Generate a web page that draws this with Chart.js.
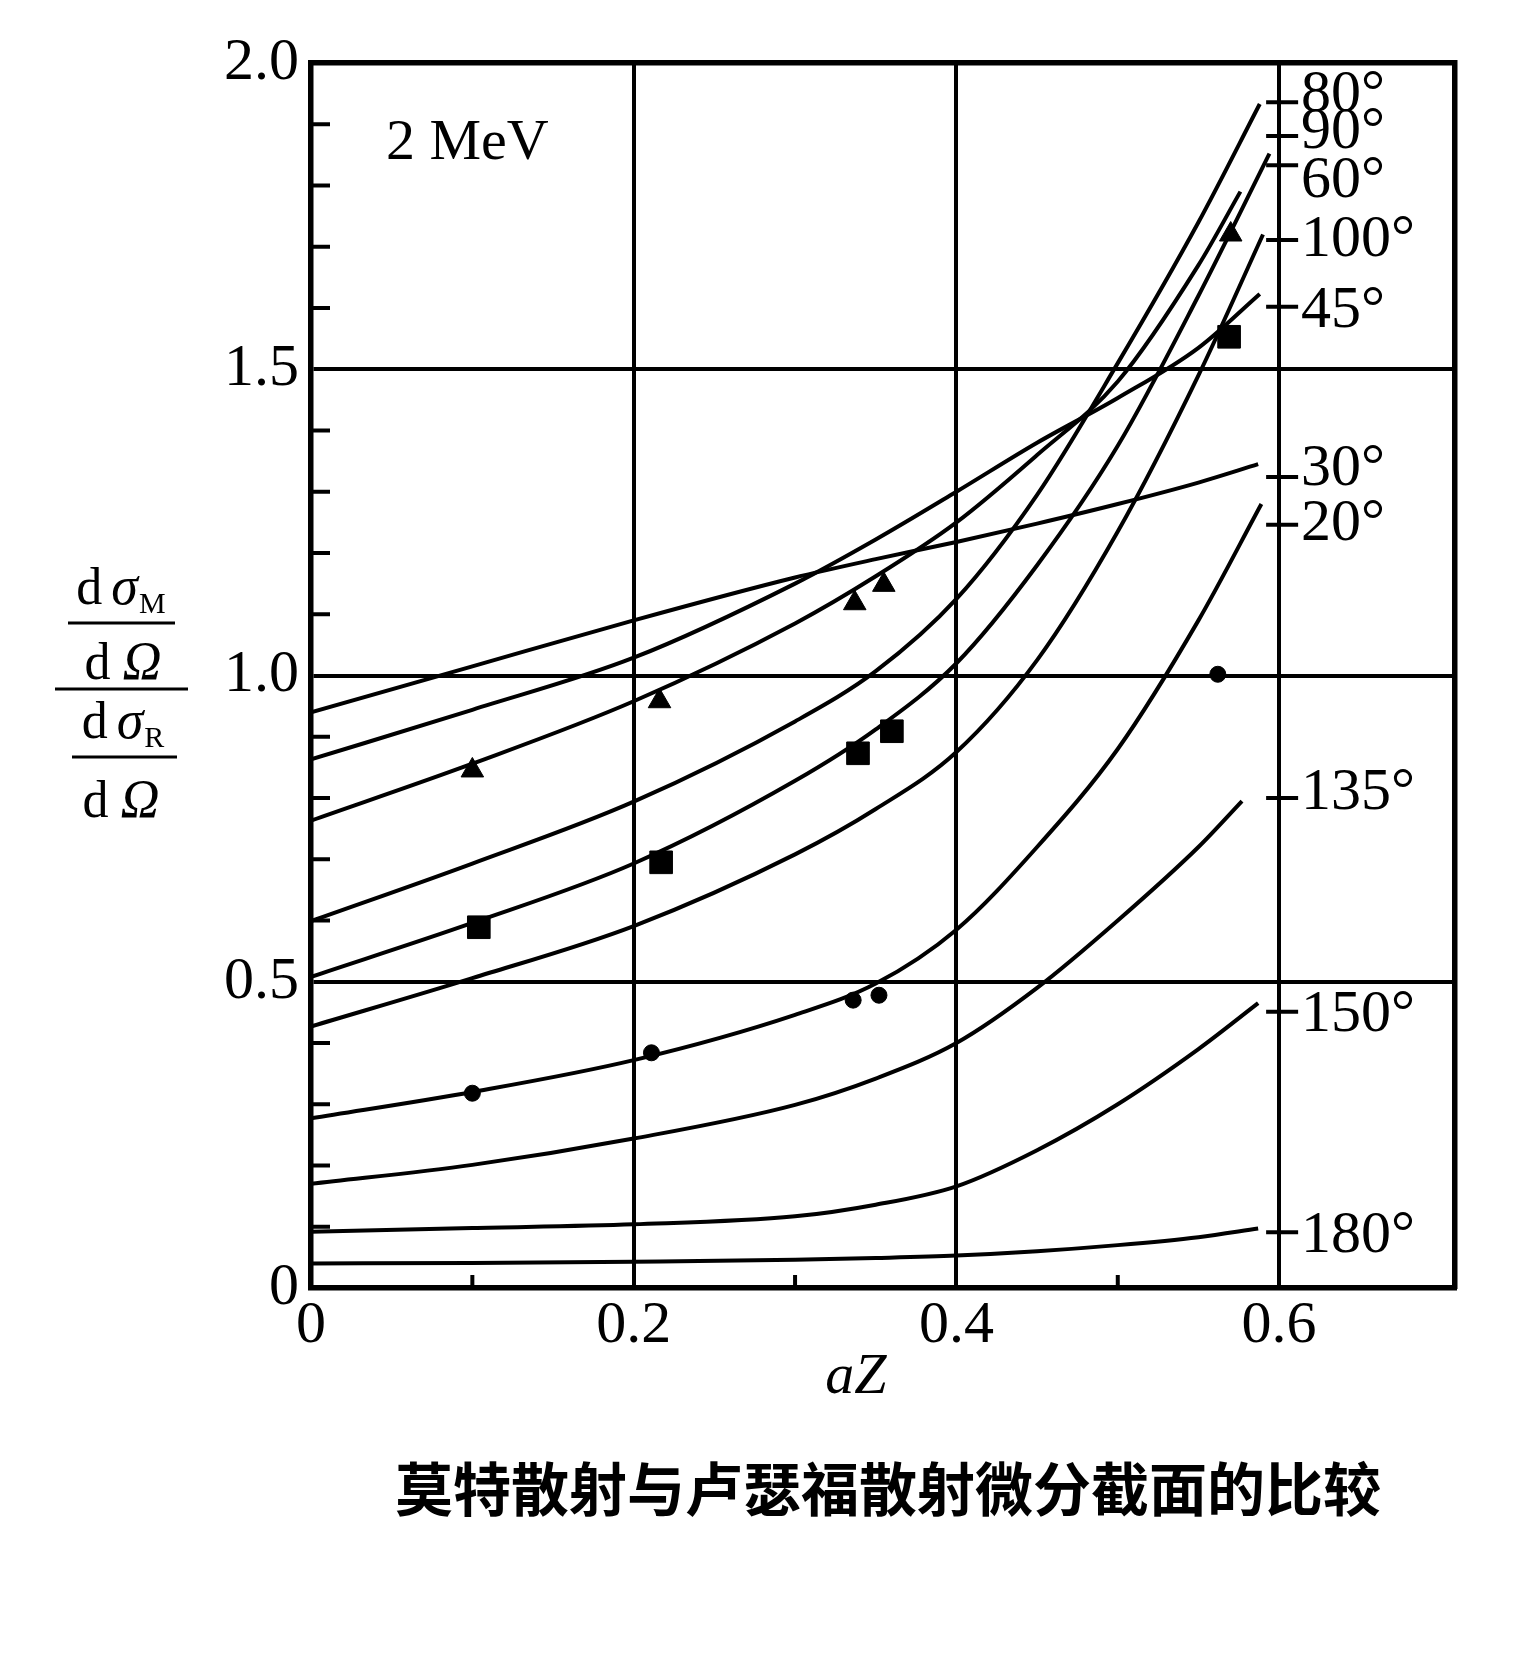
<!DOCTYPE html>
<html>
<head>
<meta charset="utf-8">
<style>
html,body{margin:0;padding:0;background:#fff;}
canvas{display:block;}
</style>
<script src="https://cdn.jsdelivr.net/npm/chart.js@4.4.1/dist/chart.umd.min.js"></script>
</head>
<body>
<canvas id="c" width="1536" height="1653"></canvas>
<script>
// ---------------- data ----------------
const azGrid = [0, 0.1, 0.2, 0.3, 0.35, 0.4, 0.45, 0.5, 0.55];

const ratio30  = [0.940, 1.015, 1.090, 1.160, 1.190, 1.218, 1.248, 1.280, 1.315];
const ratio45  = [0.863, 0.944, 1.029, 1.150, 1.222, 1.300, 1.380, 1.453, 1.535];
const ratio60  = [0.763, 0.856, 0.958, 1.085, 1.162, 1.250, 1.360, 1.480, 1.670];
const ratio80  = [0.599, 0.693, 0.794, 0.925, 1.007, 1.125, 1.295, 1.510, 1.740];
const ratio90  = [0.508, 0.596, 0.693, 0.828, 0.912, 1.020, 1.180, 1.375, 1.620];
const ratio100 = [0.427, 0.506, 0.591, 0.708, 0.782, 0.875, 1.025, 1.235, 1.490];
const ratio120 = [0.277, 0.320, 0.372, 0.446, 0.497, 0.585, 0.720, 0.880, 1.090];
const ratio135 = [0.170, 0.201, 0.244, 0.299, 0.342, 0.400, 0.490, 0.600, 0.720];
const ratio150 = [0.092, 0.098, 0.104, 0.117, 0.136, 0.166, 0.225, 0.300, 0.390];
const ratio180 = [0.040, 0.041, 0.043, 0.046, 0.049, 0.053, 0.060, 0.070, 0.083];

const curveNames = ['30°','45°','60°','80°','90°','100°','120°','135°','150°','180°'];
const curveEndX  = [0.587, 0.588, 0.576, 0.588, 0.594, 0.590, 0.589, 0.577, 0.587, 0.587];
const curveEndY  = [1.345, 1.623, 1.790, 1.933, 1.852, 1.720, 1.280, 0.795, 0.465, 0.097];

// measured points
const triX = [0.100, 0.216, 0.337, 0.355, 0.570];
const triY = [0.845, 0.958, 1.118, 1.148, 1.720];
const sqX  = [0.104, 0.217, 0.339, 0.360, 0.569];
const sqY  = [0.589, 0.695, 0.873, 0.909, 1.553];
const dotX = [0.100, 0.211, 0.336, 0.352, 0.562];
const dotY = [0.318, 0.384, 0.470, 0.478, 1.002];

// right-hand angle labels: tick value and text value
const angleLabels = ['80°','90°','60°','100°','45°','30°','20°','135°','150°','180°'];
const angleTickY  = [1.936, 1.881, 1.833, 1.711, 1.602, 1.324, 1.246, 0.800, 0.451, 0.091];
const angleTextY  = [1.948, 1.887, 1.807, 1.711, 1.595, 1.337, 1.247, 0.807, 0.446, 0.085];

// axis ticks
const xTickValues = [0, 0.2, 0.4, 0.6];
const xTickLabels = ['0', '0.2', '0.4', '0.6'];
const yTickValues = [0, 0.5, 1.0, 1.5, 2.0];
const yTickLabels = ['0', '0.5', '1.0', '1.5', '2.0'];
const xMinorTicks = [0.1, 0.3, 0.5];
const yMinorTicks = [0.1,0.2,0.3,0.4,0.6,0.7,0.8,0.9,1.1,1.2,1.3,1.4,1.6,1.7,1.8,1.9];

const energyLabel = '2 MeV';
const xTitle = 'aZ';
const caption = '莫特散射与卢瑟福散射微分截面的比较';

// ---------------- chart ----------------
const allCurves = [ratio30, ratio45, ratio60, ratio80, ratio90, ratio100, ratio120, ratio135, ratio150, ratio180];
const SERIF = '"Liberation Serif", "DejaVu Serif", serif';

const datasets = allCurves.map((vals, i) => ({
  label: curveNames[i],
  data: azGrid.map((x, j) => ({x: x, y: vals[j]})).concat([{x: curveEndX[i], y: curveEndY[i]}]),
  showLine: true,
  borderColor: '#000',
  borderWidth: 4,
  pointRadius: 0,
  cubicInterpolationMode: 'monotone',
  fill: false
}));
datasets.push({
  label: 'triangles', data: triX.map((x, i) => ({x: x, y: triY[i]})),
  showLine: false, pointStyle: 'triangle', pointRadius: 13,
  backgroundColor: '#000', borderColor: '#000', borderWidth: 1
});
datasets.push({
  label: 'squares', data: sqX.map((x, i) => ({x: x, y: sqY[i]})),
  showLine: false, pointStyle: 'rect', pointRadius: 16,
  backgroundColor: '#000', borderColor: '#000', borderWidth: 1
});
datasets.push({
  label: 'dots', data: dotX.map((x, i) => ({x: x, y: dotY[i]})),
  showLine: false, pointStyle: 'circle', pointRadius: 8,
  backgroundColor: '#000', borderColor: '#000', borderWidth: 1
});

function lookupLabel(values, labels, v) {
  for (let i = 0; i < values.length; i++) if (Math.abs(values[i] - v) < 1e-6) return labels[i];
  return '';
}

function drawGroup(ctx, parts, cx, baseline) {
  let w = 0;
  parts.forEach(p => { ctx.font = p.font; p.w = ctx.measureText(p.t).width; w += p.w + (p.gap || 0); });
  let x = cx - w / 2;
  ctx.textAlign = 'left';
  ctx.textBaseline = 'alphabetic';
  parts.forEach(p => { ctx.font = p.font; ctx.fillText(p.t, x, baseline + (p.dy || 0)); x += p.w + (p.gap || 0); });
}

const deco = {
  id: 'deco',
  afterDraw(chart) {
    const ctx = chart.ctx;
    const xs = chart.scales.x, ys = chart.scales.y;
    const left = chart.chartArea.left, bottom = chart.chartArea.bottom;
    ctx.save();
    ctx.strokeStyle = '#000';
    ctx.fillStyle = '#000';
    ctx.lineCap = 'butt';

    // inner minor ticks
    ctx.lineWidth = 4;
    yMinorTicks.forEach(v => {
      const y = ys.getPixelForValue(v);
      ctx.beginPath(); ctx.moveTo(left, y); ctx.lineTo(left + 19, y); ctx.stroke();
    });
    xMinorTicks.forEach(v => {
      const x = xs.getPixelForValue(v);
      ctx.beginPath(); ctx.moveTo(x, bottom); ctx.lineTo(x, bottom - 13); ctx.stroke();
    });

    // angle ticks and labels at x = 0.6
    const x6 = xs.getPixelForValue(0.6);
    ctx.font = '60px ' + SERIF;
    ctx.textAlign = 'left';
    ctx.textBaseline = 'middle';
    angleLabels.forEach((lab, i) => {
      const y = ys.getPixelForValue(angleTickY[i]);
      ctx.lineWidth = 4;
      ctx.beginPath(); ctx.moveTo(x6 - 13, y); ctx.lineTo(x6 + 19, y); ctx.stroke();
      ctx.fillText(lab, x6 + 22, ys.getPixelForValue(angleTextY[i]));
    });

    // energy label
    ctx.font = '58px ' + SERIF;
    ctx.textAlign = 'left';
    ctx.textBaseline = 'alphabetic';
    ctx.fillText(energyLabel, 386, 159);

    // x axis title
    ctx.font = 'italic 58px ' + SERIF;
    ctx.textAlign = 'center';
    ctx.fillText(xTitle, 856, 1393);

    // y axis title: (dσM/dΩ)/(dσR/dΩ)
    const F = '52px ' + SERIF, FI = 'italic 54px ' + SERIF, FS = '30px ' + SERIF;
    drawGroup(ctx, [{t:'d', font:F, gap:9}, {t:'σ', font:FI, gap:1}, {t:'M', font:FS, dy:9}], 121, 604);
    drawGroup(ctx, [{t:'d', font:F, gap:12}, {t:'Ω', font:FI}], 123, 679);
    drawGroup(ctx, [{t:'d', font:F, gap:9}, {t:'σ', font:FI, gap:1}, {t:'R', font:FS, dy:9}], 123, 738);
    drawGroup(ctx, [{t:'d', font:F, gap:12}, {t:'Ω', font:FI}], 121, 817);
    ctx.lineWidth = 3;
    [[68, 175, 623], [55, 188, 689], [72, 177, 757]].forEach(l => {
      ctx.beginPath(); ctx.moveTo(l[0], l[2]); ctx.lineTo(l[1], l[2]); ctx.stroke();
    });

    // caption
    ctx.font = 'bold 58px "Noto Sans CJK SC", sans-serif';
    ctx.textAlign = 'center';
    ctx.textBaseline = 'middle';
    ctx.fillText(caption, 888, 1489);
    ctx.restore();
  }
};

const chart = new Chart(document.getElementById('c'), {
  type: 'scatter',
  data: { datasets: datasets },
  options: {
    responsive: false,
    animation: false,
    devicePixelRatio: 1,
    layout: { padding: { left: 0, right: 81, top: 63, bottom: 265 } },
    plugins: { legend: { display: false }, tooltip: { enabled: false } },
    scales: {
      x: {
        type: 'linear', position: 'bottom', min: 0, max: 0.709,
        afterFit: s => { s.height = 100; },
        ticks: {
          stepSize: 0.2, includeBounds: false, autoSkip: false, maxRotation: 0,
          padding: 2, color: '#000', font: { family: SERIF, size: 60 },
          callback: v => lookupLabel(xTickValues, xTickLabels, v)
        },
        grid: { color: '#000', lineWidth: 4, drawTicks: false },
        border: { display: true, color: '#000', width: 5.5 }
      },
      y: {
        type: 'linear', position: 'left', min: 0, max: 2.0,
        afterFit: s => { s.width = 311; },
        ticks: {
          stepSize: 0.5, autoSkip: false, padding: 12, color: '#000',
          font: { family: SERIF, size: 60 },
          callback: v => lookupLabel(yTickValues, yTickLabels, v)
        },
        grid: { color: '#000', lineWidth: 4, drawTicks: false },
        border: { display: true, color: '#000', width: 5.5 }
      },
      xTop: {
        type: 'linear', position: 'top', min: 0, max: 1,
        afterFit: s => { s.height = 0; },
        ticks: { display: false }, grid: { display: false, drawTicks: false },
        border: { display: true, color: '#000', width: 5.5 }
      },
      yRight: {
        type: 'linear', position: 'right', min: 0, max: 1,
        afterFit: s => { s.width = 0; },
        ticks: { display: false }, grid: { display: false, drawTicks: false },
        border: { display: true, color: '#000', width: 5.5 }
      }
    }
  },
  plugins: [deco]
});
</script>
</body>
</html>
